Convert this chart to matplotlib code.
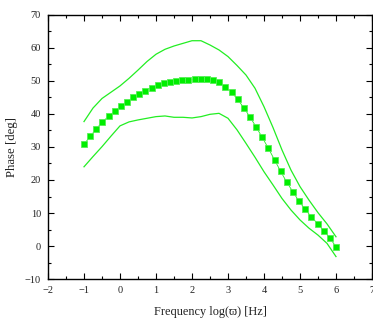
import numpy as np
import matplotlib
matplotlib.use("Agg")
import matplotlib.pyplot as plt
from matplotlib.ticker import MultipleLocator

plt.rcParams['font.family'] = ['Liberation Serif', 'DejaVu Serif']

# measured phase (markers)
x_pts = [-1.0, -0.829, -0.659, -0.488, -0.317, -0.146, 0.024, 0.195, 0.366, 0.537,
         0.707, 0.878, 1.049, 1.220, 1.390, 1.561, 1.732, 1.902, 2.073, 2.244,
         2.415, 2.585, 2.756, 2.927, 3.098, 3.268, 3.439, 3.610, 3.780, 3.951,
         4.122, 4.293, 4.463, 4.634, 4.805, 4.976, 5.146, 5.317, 5.488, 5.659,
         5.829, 6.0]
y_pts = [30.8, 33.2, 35.5, 37.6, 39.3, 40.9, 42.3, 43.7, 45.0, 46.0,
         47.1, 48.0, 48.8, 49.4, 49.7, 50.0, 50.2, 50.4, 50.5, 50.6,
         50.6, 50.3, 49.6, 48.2, 46.6, 44.4, 41.9, 39.1, 36.1, 32.9,
         29.6, 26.1, 22.6, 19.3, 16.4, 13.5, 11.1, 8.8, 6.8, 4.6,
         2.4, -0.2]

# upper bound curve
x_up = [-1.0, -0.75, -0.5, -0.25, 0.0, 0.25, 0.5, 0.75, 1.0, 1.25, 1.5, 1.75, 2.0,
        2.25, 2.5, 2.75, 3.0, 3.25, 3.5, 3.75, 4.0, 4.25, 4.5, 4.75, 5.0, 5.25,
        5.5, 5.75, 6.0]
y_up = [37.7, 41.8, 44.7, 46.6, 48.5, 50.8, 53.3, 55.9, 58.1, 59.6, 60.6, 61.4, 62.2,
        62.2, 60.9, 59.4, 57.4, 54.7, 51.8, 47.8, 42.2, 35.9, 29.1, 23.0, 18.0, 13.9,
        10.1, 6.7, 2.8]

# lower bound curve
x_lo = [-1.0, -0.75, -0.5, -0.25, 0.0, 0.25, 0.5, 0.75, 1.0, 1.25, 1.5, 1.75, 2.0,
        2.25, 2.5, 2.75, 3.0, 3.25, 3.5, 3.75, 4.0, 4.25, 4.5, 4.75, 5.0, 5.25,
        5.5, 5.75, 6.0]
y_lo = [24.0, 27.1, 30.1, 33.3, 36.4, 37.6, 38.2, 38.7, 39.2, 39.4, 39.0, 39.0, 38.8,
        39.2, 39.9, 40.2, 38.7, 35.2, 31.1, 26.9, 22.5, 18.5, 14.4, 10.9, 7.9, 5.4,
        3.3, 0.8, -3.2]

fig = plt.figure(figsize=(3.73, 3.22), dpi=100)
ax = fig.add_axes([0.1287, 0.1335, 0.8686, 0.82])

green = '#22ee22'
ax.plot(x_up, y_up, color=green, lw=0.9)
ax.plot(x_lo, y_lo, color=green, lw=0.9)
ax.plot(x_pts, y_pts, color=green, lw=0.6, marker='s', markersize=4.6,
        markerfacecolor='#00ee00', markeredgecolor='#55f055', markeredgewidth=0.6)

ax.set_xlim(-2, 7)
ax.set_ylim(-10, 70)
ax.xaxis.set_major_locator(MultipleLocator(1))
ax.xaxis.set_minor_locator(MultipleLocator(0.5))
ax.yaxis.set_major_locator(MultipleLocator(10))
ax.yaxis.set_minor_locator(MultipleLocator(5))
ax.tick_params(which='both', direction='in', top=True, right=True, labelsize=7.5,
               width=0.8, labelcolor='#222222')
ax.tick_params(which='major', length=4, pad=5)
ax.tick_params(which='minor', length=2)
for s in ax.spines.values():
    s.set_linewidth(1.0)

ax.set_xlabel('Frequency log(ϖ) [Hz]', fontsize=8.8, labelpad=8, color='#222222')
ax.set_ylabel('Phase [deg]', fontsize=9.2, labelpad=5, color='#222222')

fig.savefig('out.png', dpi=100)
